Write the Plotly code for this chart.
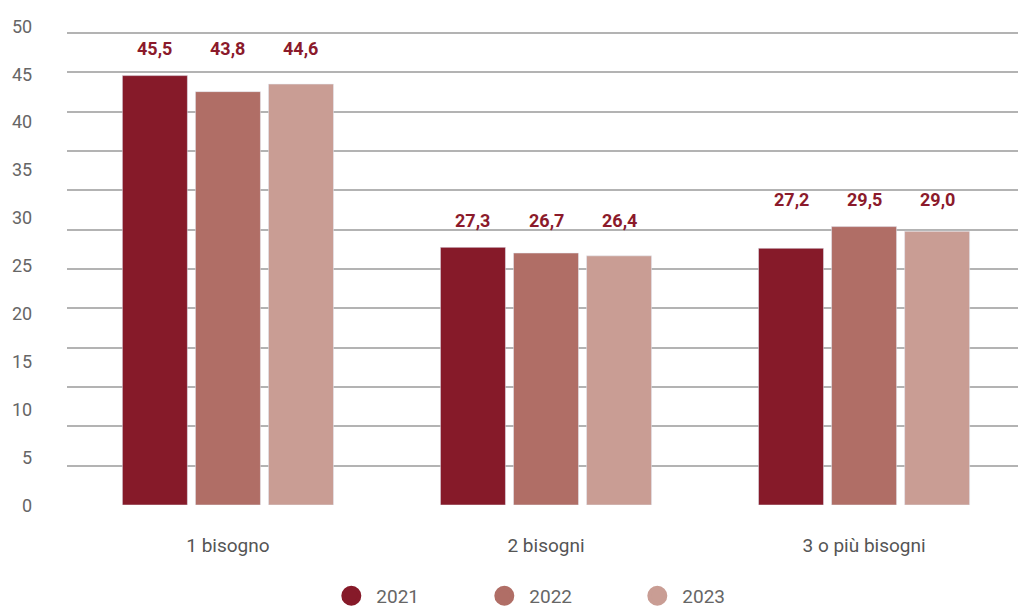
import numpy as np
import plotly.graph_objects as go

categories = ["1 bisogno", "2 bisogni", "3 o più bisogni"]
years = ["2021", "2022", "2023"]
v2021 = [45.5, 27.3, 27.2]
v2022 = [43.8, 26.7, 29.5]
v2023 = [44.6, 26.4, 29.0]
y_ticks = [0, 5, 10, 15, 20, 25, 30, 35, 40, 45, 50]

colors = ["#861A29", "#B06E66", "#C99D94"]
series = [v2021, v2022, v2023]
label_color = "#8B1A2B"
font = "Roboto"

fig = go.Figure()
for name, vals, c in zip(years, series, colors):
    fig.add_trace(go.Bar(x=categories, y=vals, name=name, marker_color=c,
                         showlegend=False, hoverinfo="skip"))
for name, c in zip(years, colors):
    fig.add_trace(go.Scatter(x=[None], y=[None], name=name, mode="markers",
                             marker=dict(symbol="circle", size=22, color=c,
                                         line=dict(color=c, width=4)),
                             yaxis="y2"))

# value labels, aligned per group above the tallest bar
offsets = [-1, 0, 1]
slot = 0.2296
for ci, cat in enumerate(categories):
    gmax = max(s[ci] for s in series)
    for si, s in enumerate(series):
        fig.add_annotation(x=ci + offsets[si] * slot, y=gmax, xref="x", yref="y",
                           text=f"{s[ci]:.1f}".replace(".", ","), showarrow=False,
                           yshift=27, font=dict(family=font, size=18, color=label_color,
                                                weight="bold"))

# y tick labels (slightly spread vs. the gridlines, as in the source)
for v in y_ticks:
    fig.add_annotation(x=0, xref="paper", y=v, yref="y", text=str(v),
                       showarrow=False, xanchor="right", xshift=-33, yshift=v * 0.14,
                       font=dict(family=font, size=18, color="#666666"))

yr = [0, 50.12]
fig.update_layout(
    width=1018, height=612,
    margin=dict(l=67, r=0, t=32, b=107, autoexpand=False),
    paper_bgcolor="white", plot_bgcolor="white",
    barmode="group", bargap=0.311, bargroupgap=0.11,
    separators=",.",
    font=dict(family=font, color="#666666"),
    xaxis=dict(range=[-0.506, 2.484], showgrid=False, showline=False, ticks="",
               ticklabelstandoff=27, tickfont=dict(size=19, color="#555555")),
    yaxis=dict(range=yr, showticklabels=False, showgrid=False, zeroline=False,
               showline=False, ticks=""),
    yaxis2=dict(range=yr, overlaying="y", side="left",
                tickvals=list(np.linspace(0, 50, 13)), showticklabels=False,
                showgrid=True, gridcolor="#b3b3b3", gridwidth=2, zeroline=False,
                showline=False, ticks=""),
    legend=dict(orientation="h", x=0.514, xanchor="center", y=-0.152, yanchor="top",
                font=dict(size=19, color="#666666"), itemwidth=40,
                tracegroupgap=0, entrywidthmode="pixels", entrywidth=98),
)

fig.write_html("out.html", config={"displayModeBar": False},
               post_script="document.body.style.margin='0';")
